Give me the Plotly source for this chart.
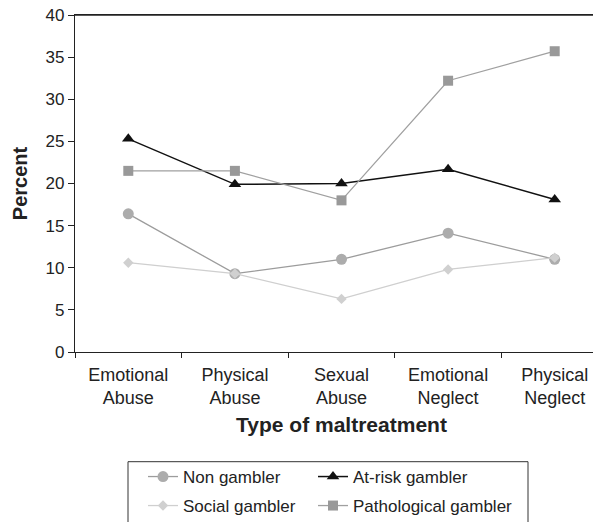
import plotly.graph_objects as go

categories = ["Emotional<br>Abuse", "Physical<br>Abuse", "Sexual<br>Abuse",
              "Emotional<br>Neglect", "Physical<br>Neglect"]
non_gambler = [16.4, 9.3, 11.0, 14.1, 11.0]
at_risk_gambler = [25.3, 19.9, 20.0, 21.7, 18.1]
social_gambler = [10.6, 9.3, 6.3, 9.8, 11.2]
pathological_gambler = [21.5, 21.5, 18.0, 32.2, 35.7]
y_ticks = [0, 5, 10, 15, 20, 25, 30, 35, 40]

FONT = "Liberation Sans, Arial, sans-serif"
TXT = "#222222"

fig = go.Figure()
fig.add_trace(go.Scatter(
    x=categories, y=non_gambler, name="Non gambler", mode="lines+markers",
    line=dict(color="#9c9c9c", width=1.3),
    marker=dict(symbol="circle", size=11, color="#acacac"),
    legend="legend"))
fig.add_trace(go.Scatter(
    x=categories, y=at_risk_gambler, name="At-risk gambler", mode="lines+markers",
    line=dict(color="#111111", width=1.5),
    marker=dict(symbol="triangle-up", size=11, color="#111111"),
    legend="legend", legendwidth=180))
fig.add_trace(go.Scatter(
    x=categories, y=social_gambler, name="Social gambler", mode="lines+markers",
    line=dict(color="#cfcfcf", width=1.3),
    marker=dict(symbol="diamond", size=8, color="#d0d0d0"),
    legend="legend2"))
fig.add_trace(go.Scatter(
    x=categories, y=pathological_gambler, name="Pathological gambler",
    mode="lines+markers",
    line=dict(color="#a0a0a0", width=1.3),
    marker=dict(symbol="square", size=10, color="#999999"),
    legend="legend2", legendwidth=180))

# page body has an 8px default margin
OFF = 8
W, H = 601, 522
L, R, T, B = 67, 1, 7, 178
pw = W - L - R
ph = H - T - B

def px_x(p):
    return (p - OFF - L) / pw

def px_y(p):
    return (H - B - (p - OFF)) / ph

legend_common = dict(
    orientation="h", entrywidth=125, xanchor="left", yanchor="top",
    bgcolor="rgba(0,0,0,0)", borderwidth=0,
    font=dict(family=FONT, size=17, color=TXT), traceorder="normal")

fig.update_layout(
    width=W, height=H,
    margin=dict(l=L, r=R, t=T, b=B, pad=0, autoexpand=False),
    paper_bgcolor="white", plot_bgcolor="white",
    font=dict(family=FONT, color=TXT),
    xaxis=dict(
        type="category", categoryorder="array", categoryarray=categories,
        range=[-0.5, 4.5], tickson="boundaries", automargin=False,
        ticks="outside", ticklen=5, tickwidth=1.2, tickcolor="#222",
        showline=True, linecolor="#222", linewidth=1.3, mirror=True,
        showgrid=False, zeroline=False, ticklabelstandoff=6,
        ticklabeloverflow="allow",
        tickfont=dict(family=FONT, size=18, color=TXT),
        title=dict(text="<b>Type of maltreatment</b>",
                   font=dict(family=FONT, size=21, color=TXT), standoff=10)),
    yaxis=dict(
        range=[0, 40], tickvals=y_ticks, ticks="outside", ticklen=6,
        tickwidth=1.2, tickcolor="#222", automargin=False,
        showline=True, linecolor="#222", linewidth=1.3,
        showgrid=False, zeroline=False, ticklabeloverflow="allow",
        tickfont=dict(family=FONT, size=17, color=TXT),
        ticklabelstandoff=0,
        title=dict(text="<b>Percent</b>",
                   font=dict(family=FONT, size=20, color=TXT), standoff=12)),
    legend=dict(x=px_x(143), y=px_y(459), **legend_common),
    legend2=dict(x=px_x(143), y=px_y(488), **legend_common),
    shapes=[
        dict(type="rect", xref="paper", yref="paper",
             x0=px_x(128), x1=px_x(528), y0=px_y(545), y1=px_y(461.7),
             line=dict(color="#333", width=1), fillcolor="rgba(0,0,0,0)"),
        dict(type="line", xref="paper", yref="paper", x0=0, x1=1, y0=1, y1=1,
             line=dict(color="#222", width=1.3)),
    ],
)

fig.write_html("out.html")
